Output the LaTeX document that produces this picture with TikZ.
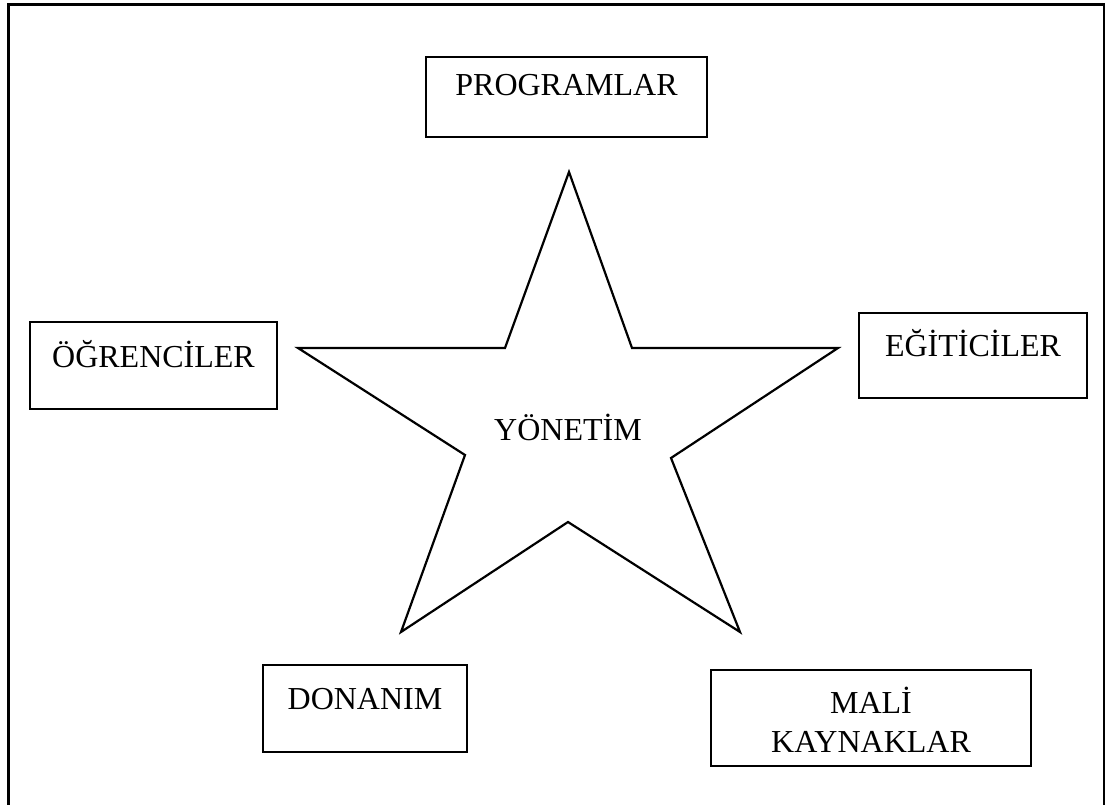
\documentclass[tikz,border=0pt]{standalone}
\usepackage{fontspec}
\setmainfont{Liberation Serif}
\begin{document}
\begin{tikzpicture}[x=1pt,y=-1pt,
  frameline/.style={line width=3pt},
  box/.style={draw, line width=2.3pt, inner sep=0pt},
  lbl/.style={font=\fontsize{32}{39}\selectfont, inner sep=0pt, align=center, anchor=base},
  starline/.style={line width=2.2pt, line join=miter}]
\useasboundingbox (0,0) rectangle (1105,805);

% page frame, open at the bottom
\draw[frameline] (8,810) -- (8,5) -- (1104,5) -- (1104,810);

% boxes round the star
\node[box, minimum width=281, minimum height=80] (prog) at (566.5,97) {};
\node[lbl] (progt) at ([yshift=-40pt]prog.north) {PROGRAMLAR};

\node[box, minimum width=247, minimum height=87] (ogr) at (153.5,365.5) {};
\node[lbl] (ogrt) at ([yshift=-47pt]ogr.north) {ÖĞRENCİLER};

\node[box, minimum width=228, minimum height=85] (egi) at (973,355.5) {};
\node[lbl] (egit) at ([yshift=-45pt]egi.north) {EĞİTİCİLER};

\node[box, minimum width=204, minimum height=87] (don) at (365,708.5) {};
\node[lbl] (dont) at ([yshift=-46pt]don.north) {DONANIM};

% two-line label: its base anchor sits on the last line
\node[box, minimum width=320, minimum height=96] (mali) at (871,718) {};
\node[lbl] (malit) at ([yshift=-84pt]mali.north) {MALİ\\KAYNAKLAR};

% five-pointed star
\coordinate (s1) at (569,172);
\coordinate (s2) at (632,348);
\coordinate (s3) at (838,348);
\coordinate (s4) at (671,458);
\coordinate (s5) at (740,632);
\coordinate (s6) at (568,522);
\coordinate (s7) at (401,632);
\coordinate (s8) at (465,455);
\coordinate (s9) at (298,348);
\coordinate (s10) at (505,348);
\draw[starline] (s1) -- (s2) -- (s3) -- (s4) -- (s5) -- (s6) -- (s7) -- (s8) -- (s9) -- (s10) -- cycle;

\node[lbl] (yon) at (568,440) {YÖNETİM};
\end{tikzpicture}
\end{document}
